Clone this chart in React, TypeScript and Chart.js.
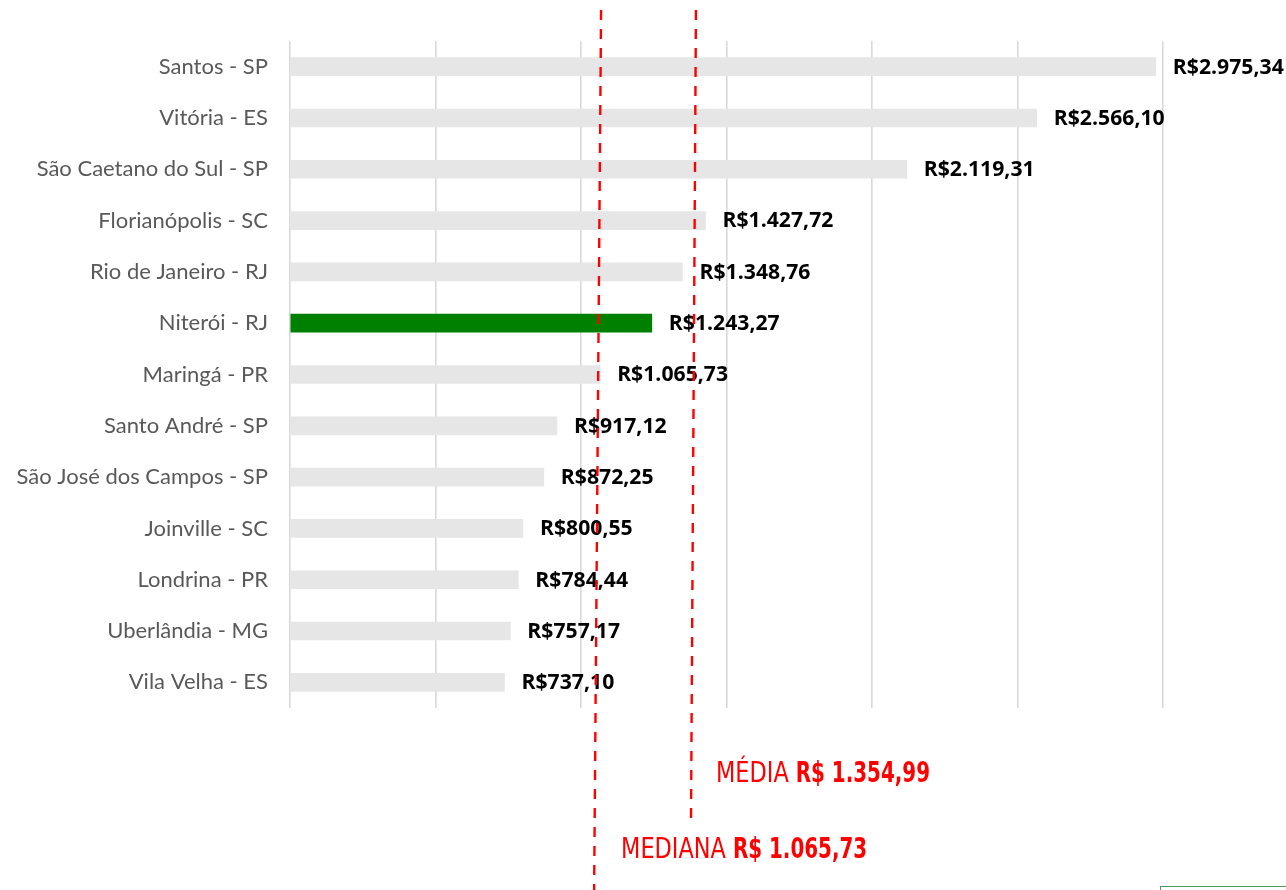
import React, { useEffect, useRef } from "react";
import { Chart, registerables } from "chart.js";

Chart.register(...registerables);

const cities = [
  "Santos - SP",
  "Vitória - ES",
  "São Caetano do Sul - SP",
  "Florianópolis - SC",
  "Rio de Janeiro - RJ",
  "Niterói - RJ",
  "Maringá - PR",
  "Santo André - SP",
  "São José dos Campos - SP",
  "Joinville - SC",
  "Londrina - PR",
  "Uberlândia - MG",
  "Vila Velha - ES",
];

const values = [
  2975.34, 2566.1, 2119.31, 1427.72, 1348.76, 1243.27, 1065.73, 917.12, 872.25,
  800.55, 784.44, 757.17, 737.1,
];

const highlightCity = "Niterói - RJ";

const xTicks = [0, 500, 1000, 1500, 2000, 2500, 3000];

const mediaValue = 1354.99;
const medianaValue = 1065.73;

// where the hand-drawn dashed lines sit, in value units (top end, bottom end)
const mediaLineAt = [1395, 1378];
const medianaLineAt = [1069, 1045];

const fmt = (v: number) => {
  const [i, d] = v.toFixed(2).split(".");
  const withDots = i.replace(/\B(?=(\d{3})+(?!\d))/g, ".");
  return withDots + "," + d;
};

const LABEL_FONT = "Lato, 'Open Sans', sans-serif";
const VALUE_FONT = "'Open Sans', Lato, sans-serif";
const NARROW_FONT = "'DejaVu Sans Condensed', 'DejaVu Sans', sans-serif";

const overlayPlugin = {
  id: "overlay",
  afterDatasetsDraw(chart: any) {
    const ctx = chart.ctx;
    const meta = chart.getDatasetMeta(0);
    ctx.save();
    ctx.font = "bold 20px " + VALUE_FONT;
    ctx.fillStyle = "#000000";
    ctx.textBaseline = "middle";
    ctx.textAlign = "left";
    meta.data.forEach((bar: any, i: number) => {
      const t = "R$" + fmt(values[i]);
      const x = bar.x + 17;
      ctx.save();
      ctx.translate(x, bar.y + 1);
      ctx.scale(1.06, 1.03);
      ctx.fillText(t, 0, 0);
      ctx.restore();
    });
    ctx.restore();
  },
  afterDraw(chart: any) {
    const ctx = chart.ctx;
    const xs = chart.scales.x;
    ctx.save();
    ctx.strokeStyle = "#ff0000";
    ctx.lineWidth = 2.4;
    ctx.setLineDash([10, 9]);
    // median line
    ctx.beginPath();
    ctx.moveTo(xs.getPixelForValue(medianaLineAt[0]), 10);
    ctx.lineTo(xs.getPixelForValue(medianaLineAt[1]), 892);
    ctx.stroke();
    // mean line
    ctx.beginPath();
    ctx.moveTo(xs.getPixelForValue(mediaLineAt[0]), 10);
    ctx.lineTo(xs.getPixelForValue(mediaLineAt[1]), 818);
    ctx.stroke();
    ctx.setLineDash([]);

    const drawLabel = (x: number, y: number, a: string, b: string) => {
      ctx.textBaseline = "alphabetic";
      ctx.textAlign = "left";
      ctx.fillStyle = "#ff0000";
      ctx.font = "28px " + NARROW_FONT;
      const w = ctx.measureText(a).width * 0.89;
      ctx.save();
      ctx.translate(x, y);
      ctx.scale(0.89, 1);
      ctx.fillText(a, 0, 0);
      ctx.restore();
      ctx.font = "bold 28px " + NARROW_FONT;
      ctx.save();
      ctx.translate(x + w + 7, y);
      ctx.scale(0.79, 1);
      ctx.fillText(b, 0, 0);
      ctx.restore();
    };
    drawLabel(
      xs.getPixelForValue(mediaLineAt[1]) + 25,
      782,
      "MÉDIA",
      "R$ " + fmt(mediaValue)
    );
    drawLabel(
      xs.getPixelForValue(medianaLineAt[1]) + 27,
      858,
      "MEDIANA",
      "R$ " + fmt(medianaValue)
    );
    ctx.restore();
  },
};

export default function App() {
  const ref = useRef<HTMLCanvasElement>(null);

  useEffect(() => {
    if (!ref.current) return;
    const chart = new Chart(ref.current, {
      type: "bar",
      data: {
        labels: cities,
        datasets: [
          {
            data: values,
            backgroundColor: cities.map((c) =>
              c === highlightCity ? "#008000" : "#e6e6e6"
            ),
            barThickness: 18,
          },
        ],
      },
      options: {
        indexAxis: "y",
        animation: false,
        responsive: false,
        maintainAspectRatio: false,
        layout: { padding: { top: 41, bottom: 182, right: 123, left: 0 } },
        plugins: {
          legend: { display: false },
          tooltip: { enabled: false },
        },
        scales: {
          x: {
            min: xTicks[0],
            max: xTicks[xTicks.length - 1],
            afterBuildTicks: (s: any) => {
              s.ticks = xTicks.map((v) => ({ value: v }));
            },
            ticks: { display: false },
            grid: { color: "#d9d9d9", lineWidth: 1.6, drawTicks: false },
            border: { display: false },
          },
          y: {
            afterFit: (s: any) => {
              s.width = 290;
            },
            grid: { display: false, drawTicks: false },
            border: { display: false },
            ticks: {
              color: "#595959",
              padding: 22,
              font: { family: LABEL_FONT, size: 22 },
            },
          },
        },
      },
      plugins: [overlayPlugin],
    });
    return () => chart.destroy();
  }, []);

  return (
    <div style={{ position: "fixed", left: 0, top: 0, width: 1286, height: 890, background: "#ffffff" }}>
      <canvas ref={ref} width={1286} height={890} style={{ width: 1286, height: 890 }} />
      <div
        style={{
          position: "absolute",
          left: 1160,
          top: 886,
          width: 140,
          height: 20,
          border: "1px solid #4f9a62",
          boxSizing: "border-box",
        }}
      />
    </div>
  );
}
